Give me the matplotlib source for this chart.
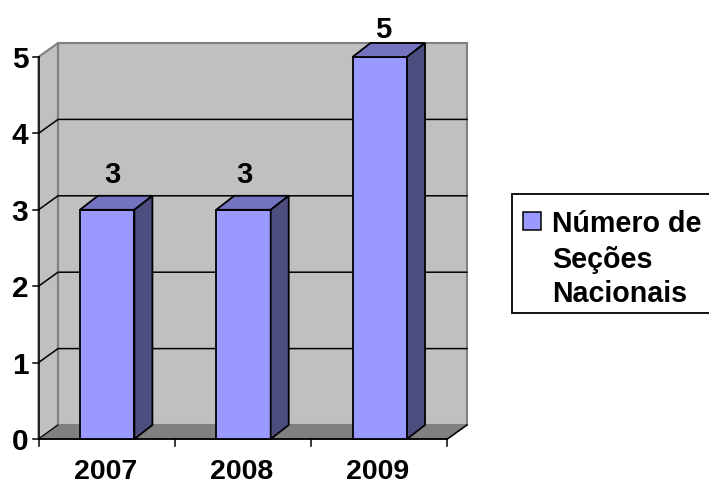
import matplotlib
matplotlib.use("Agg")
import matplotlib.pyplot as plt
from matplotlib.patches import Polygon, Rectangle

years = ["2007", "2008", "2009"]
secoes = [3, 3, 5]
y_ticks = [0, 1, 2, 3, 4, 5]
legend_lines = ["Número de", "Seções", "Nacionais"]

W, H = 709, 483
PX_X = 136.3          # pixels per category
PX_Y = 76.4           # pixels per unit of value
X0_PX, Y0_PX = 38.5, 439.0
DX = 19.5 / PX_X      # depth of the 3D box
DY = 14.0 / PX_Y
BAR_DX = 18.0 / PX_X  # depth of each bar
BAR_W = 54.5 / PX_X

plt.rcParams["font.family"] = ["Liberation Sans", "DejaVu Sans"]
plt.rcParams["font.weight"] = "bold"

fig = plt.figure(figsize=(W / 100, H / 100), dpi=100, facecolor="white")
ax = fig.add_axes([0, 0, 1, 1])
ax.set_xlim(-X0_PX / PX_X, (W - X0_PX) / PX_X)
ax.set_ylim((Y0_PX - H) / PX_Y, Y0_PX / PX_Y)
ax.axis("off")

n = len(years)
ymax = max(y_ticks)
GRAY = "#808080"
WALL = "#c0c0c0"
FLOOR = "#808080"

# side wall, back wall and floor
ax.add_patch(Polygon([(0, 0), (DX, DY), (DX, ymax + DY), (0, ymax)],
                     fc=WALL, ec=GRAY, lw=1.5, zorder=1))
ax.add_patch(Rectangle((DX, DY), n, ymax, fc=WALL, ec=GRAY, lw=1.5, zorder=1))
ax.add_patch(Polygon([(0, 0), (n, 0), (n + DX, DY), (DX, DY)],
                     fc=FLOOR, ec=GRAY, lw=1, zorder=2))
ax.plot([0, n], [0, 0], color="black", lw=1.3, zorder=2)
ax.plot([n, n + DX], [0, DY], color="black", lw=1.1, zorder=2)
ax.plot([0, 0], [0, ymax], color="black", lw=1.1, zorder=3)

# gridlines run along the side wall and across the back wall
for v in y_ticks[1:-1]:
    ax.plot([0, DX, n + DX], [v, v + DY, v + DY], color="black", lw=1.1, zorder=2)
ax.plot([0, DX], [0, DY], color="black", lw=0.8, zorder=3)

# tick marks and tick labels
TICK_X = 6 / PX_X
TICK_Y = 7 / PX_Y
for v in y_ticks:
    ax.plot([-TICK_X, 0], [v, v], color="black", lw=1.1, zorder=3)
    ax.text(-10 / PX_X, v, str(v), ha="right", va="center_baseline", fontsize=21.5,
            color="black", zorder=5)
for i in range(n + 1):
    ax.plot([i, i], [0, -TICK_Y], color="black", lw=1.1, zorder=3)

for i, label in enumerate(years):
    ax.text(i + 0.5 - 1.5 / PX_X, -30 / PX_Y, label, ha="center", va="center_baseline",
            fontsize=20.5, color="black", zorder=5)

# bars: front face from the data, then top and side faces
centers = [i + 0.5 + 0.5 / PX_X for i in range(n)]
ax.bar(centers, secoes, width=BAR_W, color="#9999ff", edgecolor="black",
       linewidth=1.3, zorder=4)
label_shift_x = [5, 0.5, 3]
label_shift_y = [38, 38, 30]
for c, v, sx, sy in zip(centers, secoes, label_shift_x, label_shift_y):
    left, right = c - BAR_W / 2, c + BAR_W / 2
    ax.add_patch(Polygon([(left, v), (right, v), (right + BAR_DX, v + DY), (left + BAR_DX, v + DY)],
                         fc="#7373bf", ec="black", lw=1.3, zorder=4))
    ax.add_patch(Polygon([(right, 0), (right + BAR_DX, DY), (right + BAR_DX, v + DY), (right, v)],
                         fc="#4d4d80", ec="black", lw=1.3, zorder=4))
    ax.text(c + sx / PX_X, v + sy / PX_Y, str(v), ha="center", va="center_baseline",
            fontsize=21, color="black", zorder=5)

# legend box, placed in pixel terms through the same axes scales
def px(x, y):
    return (x - X0_PX) / PX_X, (Y0_PX - y) / PX_Y

x0, y1 = px(512, 194)
x1, y0 = px(709.5, 313)
ax.add_patch(Rectangle((x0, y0), x1 - x0, y1 - y0, fc="white", ec="black", lw=1.3, zorder=5))
sx0, sy1 = px(523, 212)
sx1, sy0 = px(541, 230)
ax.add_patch(Rectangle((sx0, sy0), sx1 - sx0, sy1 - sy0, fc="#9999ff", ec="black", lw=1.1, zorder=6))
for line, yp in zip(legend_lines, [221, 257, 291]):
    tx, ty = px(552, yp)
    ax.text(tx, ty, line, ha="left", va="center_baseline", fontsize=20.6, color="black", zorder=6)

fig.savefig("out.png", dpi=100, facecolor="white")
